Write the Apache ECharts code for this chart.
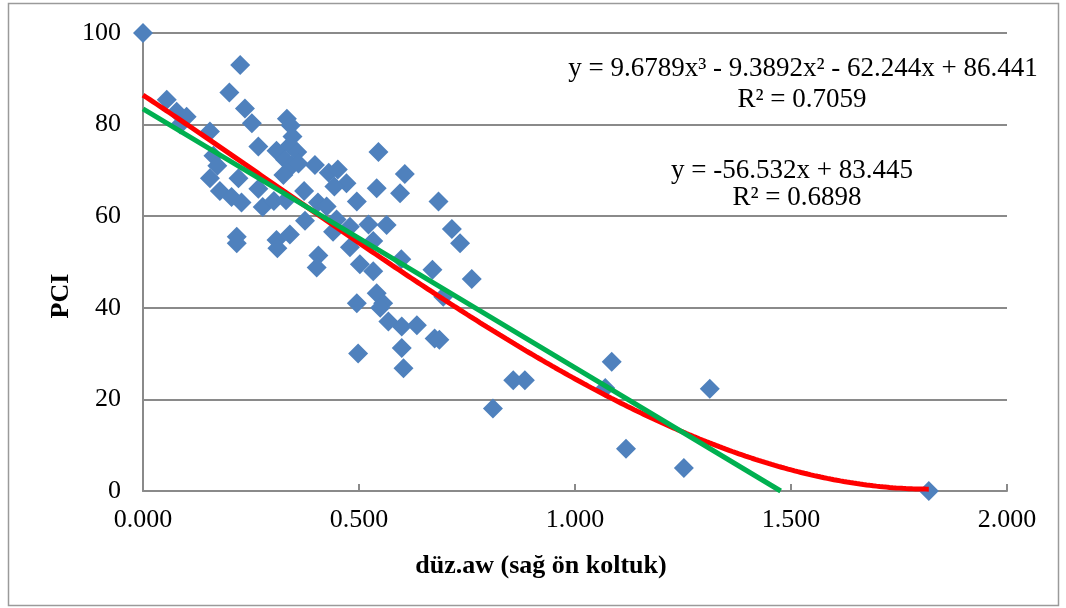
<!DOCTYPE html>
<html>
<head>
<meta charset="utf-8">
<script src="https://cdn.jsdelivr.net/npm/echarts@6/dist/echarts.min.js"></script>
<style>
  html, body { margin: 0; padding: 0; background: #ffffff; }
  #chart { width: 1066px; height: 608px; }
</style>
</head>
<body>
<div id="chart"></div>
<script>
// Measurements: düz.aw (sağ ön koltuk) against PCI
const awValues = [
  0.000, 0.055, 0.078, 0.101, 0.086, 0.200, 0.225, 0.236, 0.252, 0.155,
  0.333, 0.342, 0.346, 0.267, 0.309, 0.340, 0.357, 0.163, 0.172, 0.329,
  0.344, 0.360, 0.398, 0.325, 0.155, 0.221, 0.430, 0.451, 0.471, 0.443,
  0.545, 0.606, 0.541, 0.595, 0.684, 0.495, 0.178, 0.205, 0.228, 0.267,
  0.277, 0.303, 0.331, 0.373, 0.405, 0.425, 0.375, 0.448, 0.440, 0.479,
  0.522, 0.564, 0.715, 0.734, 0.217, 0.217, 0.309, 0.311, 0.340, 0.406,
  0.402, 0.479, 0.533, 0.502, 0.533, 0.598, 0.670, 0.761, 0.541, 0.495,
  0.556, 0.549, 0.695, 0.568, 0.599, 0.634, 0.675, 0.686, 0.498, 0.599,
  0.603, 1.085, 0.857, 0.884, 1.070, 0.810, 1.118, 1.252, 1.312, 1.819
];
const pciValues = [
  100, 85.4, 82.8, 81.7, 80.0, 87.0, 93.0, 83.5, 80.3, 78.5,
  81.3, 79.8, 77.4, 75.2, 74.3, 75.5, 74.0, 73.2, 71.0, 72.3,
  71.0, 71.5, 71.2, 69.0, 68.3, 68.3, 69.5, 70.2, 67.2, 66.5,
  74.0, 69.2, 66.1, 65.0, 63.2, 63.2, 65.5, 64.2, 63.0, 66.0,
  62.0, 63.3, 63.5, 65.5, 63.0, 62.1, 59.0, 59.3, 56.6, 57.7,
  58.2, 58.1, 57.2, 54.1, 55.5, 54.1, 54.8, 53.0, 56.0, 51.4,
  48.8, 53.2, 54.6, 49.5, 48.0, 50.6, 48.3, 46.3, 43.2, 41.0,
  41.0, 40.0, 42.4, 37.0, 35.9, 36.2, 33.3, 33.0, 30.0, 31.2,
  26.8, 28.2, 24.2, 24.2, 22.5, 18.0, 9.2, 5.0, 22.3, 0.0
];

// Trendline coefficients, highest power first
const polyCoef = [9.6789, -9.3892, -62.244, 86.441];
const polyR2 = '0.7059';
const linCoef = [-56.532, 83.445];
const linR2 = '0.6898';

// Axis ticks
const xTicks = ['0.000', '0.500', '1.000', '1.500', '2.000'];
const yTicks = ['0', '20', '40', '60', '80', '100'];

const points = awValues.map((x, i) => [x, pciValues[i]]);

function evalPoly(coef, x) {
  return coef.reduce((acc, c) => acc * x + c, 0);
}
function curve(coef, x0, x1, steps) {
  const out = [];
  for (let i = 0; i <= steps; i++) {
    const x = x0 + (x1 - x0) * i / steps;
    out.push([x, evalPoly(coef, x)]);
  }
  return out;
}
const xMaxData = Math.max.apply(null, awValues);
const polyLine = curve(polyCoef, 0, xMaxData, 240);
const linEnd = -linCoef[1] / linCoef[0];
const linLine = curve(linCoef, 0, linEnd, 2);

const serif = "'Liberation Serif', 'Times New Roman', serif";
const gray = '#8a8a8a';

const polyText = 'y = ' + polyCoef[0] + 'x³ - ' + Math.abs(polyCoef[1]) + 'x² - ' +
  Math.abs(polyCoef[2]) + 'x + ' + polyCoef[3];
const linText = 'y = ' + linCoef[0] + 'x + ' + linCoef[1];

const chart = echarts.init(document.getElementById('chart'), null, { renderer: 'canvas' });
chart.setOption({
  backgroundColor: '#ffffff',
  animation: false,
  grid: { left: 143, right: 59, top: 33, bottom: 117, containLabel: false },
  xAxis: {
    type: 'value', min: 0, max: 2, interval: 0.5,
    axisLine: { show: true, onZero: false, lineStyle: { color: gray, width: 2 } },
    axisTick: { show: true, inside: true, length: 7, lineStyle: { color: gray, width: 2 } },
    splitLine: { show: false },
    axisLabel: {
      margin: 16, color: '#000', fontFamily: serif, fontSize: 26,
      formatter: (v) => xTicks[Math.round(v / 0.5)]
    }
  },
  yAxis: {
    type: 'value', min: 0, max: 100, interval: 20,
    axisLine: { show: true, lineStyle: { color: gray, width: 2 } },
    axisTick: { show: false },
    splitLine: { show: true, lineStyle: { color: gray, width: 2 } },
    axisLabel: {
      margin: 22, color: '#000', fontFamily: serif, fontSize: 26,
      formatter: (v) => yTicks[Math.round(v / 20)]
    }
  },
  series: [
    {
      type: 'scatter', data: points, symbol: 'diamond', symbolSize: 20,
      itemStyle: { color: '#4F81BD', opacity: 1 }, z: 2
    },
    {
      type: 'line', data: polyLine, showSymbol: false, smooth: false,
      lineStyle: { color: '#FF0000', width: 5 }, z: 3
    },
    {
      type: 'line', data: linLine, showSymbol: false,
      lineStyle: { color: '#00B050', width: 5 }, z: 4
    }
  ],
  graphic: [
    {
      type: 'rect', silent: true, z: -1,
      shape: { x: 8.5, y: 3.5, width: 1050, height: 602 },
      style: { fill: 'none', stroke: '#9a9a9a', lineWidth: 1.5 }
    },
    {
      type: 'text', x: 541, y: 566,
      style: { text: 'düz.aw (sağ ön koltuk)', font: 'bold 26px ' + serif, fill: '#000', align: 'center', verticalAlign: 'middle' }
    },
    {
      type: 'text', x: 61, y: 296, rotation: Math.PI / 2,
      style: { text: 'PCI', font: 'bold 26px ' + serif, fill: '#000', align: 'center', verticalAlign: 'middle' }
    },
    {
      type: 'text', x: 803, y: 69,
      style: { text: polyText, font: '27px ' + serif, fill: '#000', align: 'center', verticalAlign: 'middle' }
    },
    {
      type: 'text', x: 802, y: 100,
      style: { text: 'R² = ' + polyR2, font: '27px ' + serif, fill: '#000', align: 'center', verticalAlign: 'middle' }
    },
    {
      type: 'text', x: 792, y: 171,
      style: { text: linText, font: '27px ' + serif, fill: '#000', align: 'center', verticalAlign: 'middle' }
    },
    {
      type: 'text', x: 797, y: 198,
      style: { text: 'R² = ' + linR2, font: '27px ' + serif, fill: '#000', align: 'center', verticalAlign: 'middle' }
    }
  ]
});
</script>
</body>
</html>
